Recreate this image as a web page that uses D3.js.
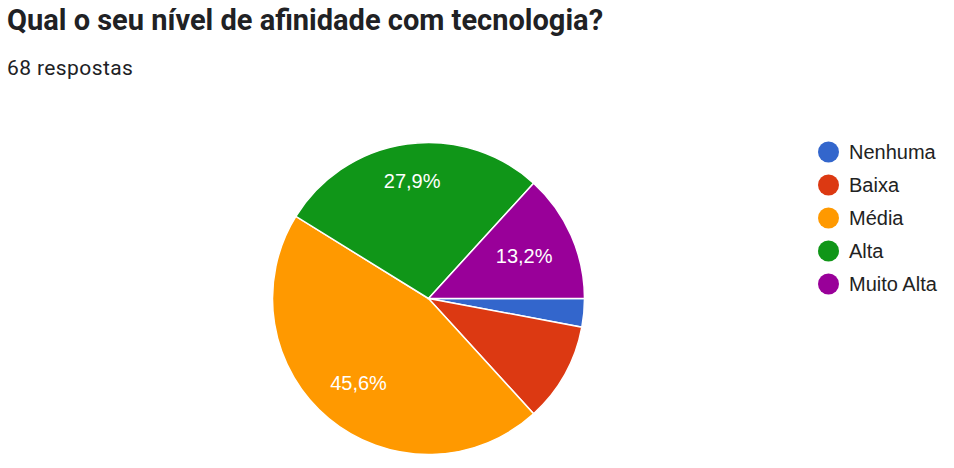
<!DOCTYPE html>
<html><head><meta charset="utf-8">
<script src="https://cdn.jsdelivr.net/npm/d3@7"></script>
<style>body{margin:0;background:#fff;}svg{display:block;}</style>
</head><body>
<svg id="c" width="954" height="468"></svg>
<script>
const title = "Qual o seu nível de afinidade com tecnologia?";
const subtitle = "68 respostas";
const categories = ["Nenhuma", "Baixa", "Média", "Alta", "Muito Alta"];
const counts = [2, 7, 31, 19, 9];
const colors = ["#3366cc", "#dc3912", "#ff9900", "#109618", "#990099"];

const svg = d3.select("#c");
svg.append("text").attr("x", 7).attr("y", 30)
  .attr("font-family", "Roboto").attr("font-weight", 700).attr("font-size", 29)
  .attr("fill", "#202124").text(title);
svg.append("text").attr("x", 7).attr("y", 75)
  .attr("font-family", "Roboto").attr("font-size", 21).attr("letter-spacing", 0.4)
  .attr("fill", "#202124").text(subtitle);

const cx = 428.5, cy = 298.5, r = 156;
const total = d3.sum(counts);
const pie = d3.pie().sort(null).value(d => d)
  .startAngle(Math.PI / 2).endAngle(Math.PI / 2 + 2 * Math.PI);
const arcs = pie(counts);
const arc = d3.arc().innerRadius(0).outerRadius(r);
const g = svg.append("g").attr("transform", `translate(${cx},${cy})`);
g.selectAll("path").data(arcs).join("path")
  .attr("d", arc).attr("fill", (d, i) => colors[i])
  .attr("stroke", "#fff").attr("stroke-width", 1.5);
const labs = g.selectAll("text").data(arcs.filter(d => d.data / total >= 0.12)).join("text")
  .attr("text-anchor", "middle").attr("dy", "0.36em")
  .attr("font-family", "Arial, 'Liberation Sans'").attr("font-size", 20)
  .attr("fill", "#fff")
  .text(d => (d.data / total * 100).toFixed(1).replace(".", ",") + "%");
labs.attr("transform", function(d) {
  const a = (d.startAngle + d.endAngle) / 2;
  const ux = Math.sin(a), uy = -Math.cos(a);
  const hw = this.getComputedTextLength() / 2;
  const dist = r * 0.776 - 0.637 * hw * Math.abs(ux);
  return `translate(${ux * dist},${uy * dist})`;
});

const leg = svg.append("g");
const y = d3.scalePoint().domain(categories).range([152, 284]);
categories.forEach((c, i) => {
  leg.append("circle").attr("cx", 828.5).attr("cy", y(c)).attr("r", 10.5).attr("fill", colors[i]);
  leg.append("text").attr("x", 849).attr("y", y(c)).attr("dy", "0.36em")
    .attr("font-family", "Arial, 'Liberation Sans'").attr("font-size", 20)
    .attr("fill", "#222").text(c);
});
</script>
</body></html>
